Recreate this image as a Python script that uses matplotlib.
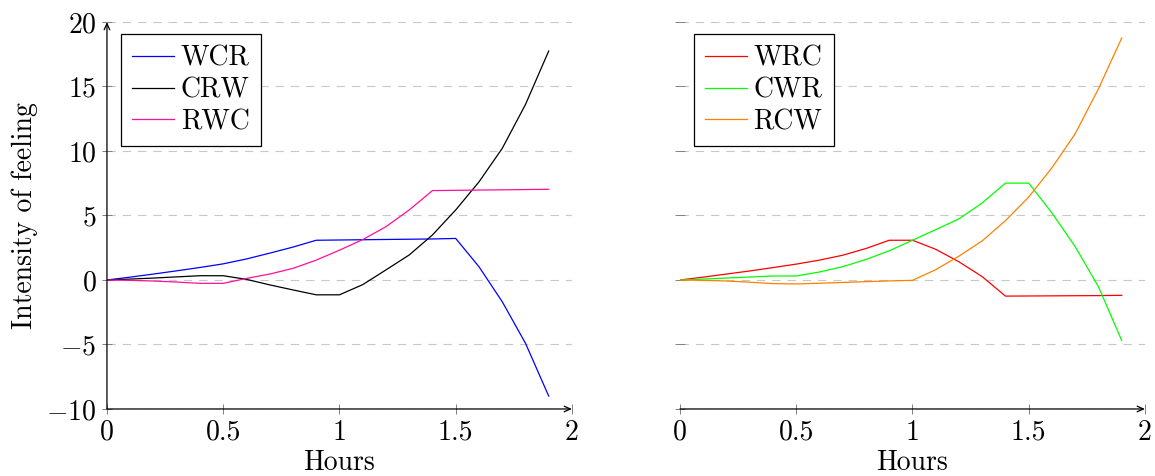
import matplotlib
matplotlib.use("Agg")
import matplotlib.pyplot as plt

plt.rcParams['font.family'] = ['cmr10', 'DejaVu Serif']
plt.rcParams['mathtext.fontset'] = 'cm'
plt.rcParams['axes.unicode_minus'] = False
plt.rcParams['lines.scale_dashes'] = False

# data
hours = [0.0, 0.1, 0.2, 0.3, 0.4, 0.5, 0.6, 0.7, 0.8, 0.9,
         1.0, 1.1, 1.2, 1.3, 1.4, 1.5, 1.6, 1.7, 1.8, 1.9]

wcr = [0, 0.22, 0.46, 0.71, 0.97, 1.25, 1.63, 2.08, 2.55, 3.08,
       3.10, 3.12, 3.14, 3.16, 3.18, 3.22, 1.03, -1.68, -4.9, -9.0]
crw = [0, 0.07, 0.15, 0.24, 0.33, 0.33, 0.05, -0.38, -0.77, -1.15,
       -1.15, -0.36, 0.78, 1.94, 3.49, 5.43, 7.6, 10.2, 13.6, 17.75]
rwc = [0, -0.03, -0.08, -0.16, -0.26, -0.26, 0.12, 0.46, 0.9, 1.54,
       2.31, 3.13, 4.13, 5.43, 6.93, 6.95, 6.97, 6.99, 7.01, 7.03]

wrc = [0, 0.22, 0.46, 0.7, 0.96, 1.23, 1.54, 1.92, 2.44, 3.08,
       3.08, 2.38, 1.41, 0.26, -1.25, -1.24, -1.23, -1.22, -1.21, -1.19]
cwr = [0, 0.07, 0.15, 0.23, 0.31, 0.31, 0.62, 1.03, 1.59, 2.26,
       3.08, 3.9, 4.74, 5.97, 7.51, 7.51, 5.2, 2.58, -0.52, -4.69]
rcw = [0, -0.03, -0.08, -0.17, -0.28, -0.31, -0.25, -0.19, -0.13, -0.07,
       -0.03, 0.8, 1.85, 3.03, 4.6, 6.43, 8.7, 11.34, 14.82, 18.76]

left_series = [("WCR", wcr, "#0000ff"), ("CRW", crw, "#000000"), ("RWC", rwc, "#ff0f9a")]
right_series = [("WRC", wrc, "#ff0000"), ("CWR", cwr, "#00ff00"), ("RCW", rcw, "#ff8000")]

xticks = [0, 0.5, 1, 1.5, 2]
xtick_labels = ["0", "0.5", "1", "1.5", "2"]
yticks = [-10, -5, 0, 5, 10, 15, 20]
ytick_labels = ["$-10$", "$-5$", "$0$", "$5$", "$10$", "$15$", "$20$"]

FS = 20


def style_axes(ax, show_y):
    ax.set_xlim(0, 2)
    ax.set_ylim(-10, 20)
    for s in ax.spines.values():
        s.set_visible(False)
    ax.set_xticks(xticks, xtick_labels)
    ax.set_yticks(yticks, ytick_labels if show_y else [""] * len(yticks))
    ax.tick_params(direction='inout', length=7, width=0.7, color='#808080',
                   labelsize=FS, pad=4)
    ax.yaxis.grid(True, linestyle=(0, (6, 5)), color='#c8c8c8', lw=0.8)
    ax.set_axisbelow(True)
    arrow = dict(arrowstyle='->,head_length=0.45,head_width=0.2', lw=0.9,
                 color='k', shrinkA=0, shrinkB=0)
    ax.annotate('', xy=(1, 0), xytext=(0, 0), xycoords='axes fraction', arrowprops=arrow)
    if show_y:
        ax.annotate('', xy=(0, 1), xytext=(0, 0), xycoords='axes fraction', arrowprops=arrow)
    ax.set_xlabel("Hours", fontsize=FS, labelpad=3)


def plot_panel(ax, series, show_y):
    for name, vals, col in series:
        ax.plot(hours, vals, color=col, lw=0.9, label=name)
    style_axes(ax, show_y)
    leg = ax.legend(loc='upper left', bbox_to_anchor=(0.03, 0.969), borderaxespad=0,
                    fontsize=FS, fancybox=False, edgecolor='k', framealpha=1,
                    handlelength=1.5, handletextpad=0.25, labelspacing=0.2,
                    borderpad=0.4)
    leg.get_frame().set_linewidth(0.9)


fig = plt.figure(figsize=(11.55, 4.76), dpi=100)
ax1 = fig.add_axes([0.0926, 0.1408, 0.4026, 0.813])
ax2 = fig.add_axes([0.5887, 0.1408, 0.4026, 0.813])

plot_panel(ax1, left_series, True)
plot_panel(ax2, right_series, False)
ax1.set_ylabel("Intensity of feeling", fontsize=FS, labelpad=6)

fig.savefig("out.png", dpi=100)
